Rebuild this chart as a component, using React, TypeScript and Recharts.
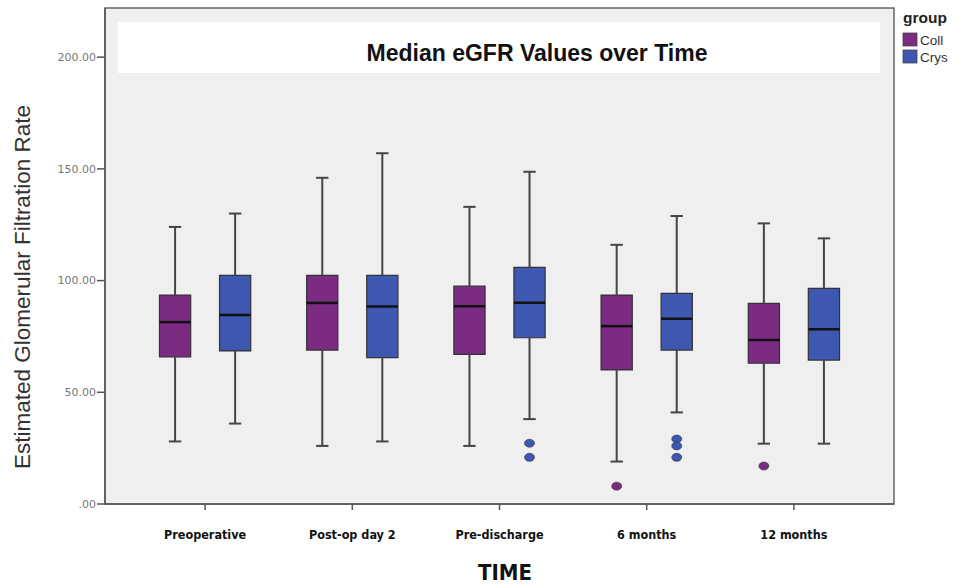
import {
  ComposedChart,
  XAxis,
  YAxis,
  Scatter,
  ReferenceArea,
  ReferenceLine,
} from 'recharts'

const times = ['Preoperative', 'Post-op day 2', 'Pre-discharge', '6 months', '12 months']

const collMin = [28, 26, 26, 19, 27]
const collQ1 = [65.8, 68.9, 67, 60, 63]
const collMedian = [81.4, 90, 88.5, 79.6, 73.4]
const collQ3 = [93.5, 102.3, 97.5, 93.5, 89.8]
const collMax = [124, 146, 133, 116, 125.6]

const crysMin = [36, 28, 38, 41, 27]
const crysQ1 = [68.5, 65.5, 74.4, 68.9, 64.4]
const crysMedian = [84.6, 88.4, 90.1, 82.9, 78.2]
const crysQ3 = [102.3, 102.3, 105.9, 94.3, 96.5]
const crysMax = [130, 157, 148.7, 128.9, 118.9]

const collOutliers = [
  { time: 3, value: 8 },
  { time: 4, value: 17 },
]
const crysOutliers = [
  { time: 2, value: 27.2 },
  { time: 2, value: 20.9 },
  { time: 3, value: 29.1 },
  { time: 3, value: 26 },
  { time: 3, value: 20.9 },
]

const yTicks = [0, 50, 100, 150, 200]

const COLL = '#7b2b82'
const CRYS = '#3e58b2'
const WHISKER = '#454545'
const NARROW = "'DejaVu Sans Condensed', 'DejaVu Sans', sans-serif"

const OFFSET = 0.204
const HALF_BOX = 0.106
const HALF_CAP = 0.042
const X_DOMAIN: [number, number] = [-0.68, 4.68]

type Group = {
  name: string
  color: string
  shift: number
  min: number[]
  q1: number[]
  median: number[]
  q3: number[]
  max: number[]
}

const groups: Group[] = [
  { name: 'Coll', color: COLL, shift: -OFFSET, min: collMin, q1: collQ1, median: collMedian, q3: collQ3, max: collMax },
  { name: 'Crys', color: CRYS, shift: OFFSET, min: crysMin, q1: crysQ1, median: crysMedian, q3: crysQ3, max: crysMax },
]

const Dot = (props: any) => {
  const { cx, cy, fill } = props
  return <ellipse cx={cx} cy={cy} rx={5} ry={4} fill={fill} stroke="#333" strokeWidth={0.6} />
}

export default function App() {
  const boxes: any[] = []
  groups.forEach((g) => {
    times.forEach((_, i) => {
      const x = i + g.shift
      boxes.push(
        <ReferenceLine key={`wl-${g.name}-${i}`} segment={[{ x, y: g.min[i] }, { x, y: g.q1[i] }]} stroke={WHISKER} strokeWidth={2} />,
        <ReferenceLine key={`wh-${g.name}-${i}`} segment={[{ x, y: g.q3[i] }, { x, y: g.max[i] }]} stroke={WHISKER} strokeWidth={2} />,
        <ReferenceLine key={`cl-${g.name}-${i}`} segment={[{ x: x - HALF_CAP, y: g.min[i] }, { x: x + HALF_CAP, y: g.min[i] }]} stroke={WHISKER} strokeWidth={2} />,
        <ReferenceLine key={`ch-${g.name}-${i}`} segment={[{ x: x - HALF_CAP, y: g.max[i] }, { x: x + HALF_CAP, y: g.max[i] }]} stroke={WHISKER} strokeWidth={2} />,
        <ReferenceArea key={`b-${g.name}-${i}`} x1={x - HALF_BOX} x2={x + HALF_BOX} y1={g.q1[i]} y2={g.q3[i]} fill={g.color} fillOpacity={1} stroke="#333" strokeWidth={1.2} />,
        <ReferenceLine key={`m-${g.name}-${i}`} segment={[{ x: x - HALF_BOX, y: g.median[i] }, { x: x + HALF_BOX, y: g.median[i] }]} stroke="#111" strokeWidth={2.5} />,
      )
    })
  })

  const collPts = collOutliers.map((o) => ({ x: o.time - OFFSET, y: o.value }))
  const crysPts = crysOutliers.map((o) => ({ x: o.time + OFFSET, y: o.value }))

  return (
    <div style={{ position: 'absolute', left: 0, top: 0, width: 967, height: 588, background: '#fff' }}>
      <ComposedChart width={967} height={588} margin={{ top: 8, right: 73, bottom: 0, left: 0 }}>
        <XAxis
          type="number"
          dataKey="x"
          domain={X_DOMAIN}
          ticks={[0, 1, 2, 3, 4]}
          tickFormatter={(v) => times[v] ?? ''}
          allowDataOverflow
          height={84}
          stroke="#555"
          strokeWidth={1.5}
          tickSize={6}
          tickMargin={20}
          tick={{ fontSize: 12.5, fontWeight: 'bold', fill: '#111', fontFamily: NARROW }}
        />
        <YAxis
          type="number"
          dataKey="y"
          domain={[0, 222]}
          ticks={yTicks}
          allowDataOverflow
          width={105}
          stroke="#555"
          strokeWidth={1.5}
          tickSize={8}
          tickMargin={1}
          tickFormatter={(v) => (v === 0 ? '.00' : v.toFixed(2))}
          tick={{ fontSize: 11, fill: '#777', fontFamily: 'DejaVu Sans' }}
        />
        <ReferenceArea x1={X_DOMAIN[0]} x2={X_DOMAIN[1]} y1={0} y2={222} fill="#efefef" fillOpacity={1} stroke="#666" strokeWidth={1.5} />
        {boxes}
        <Scatter data={collPts} dataKey="y" fill={COLL} shape={<Dot />} isAnimationActive={false} />
        <Scatter data={crysPts} dataKey="y" fill={CRYS} shape={<Dot />} isAnimationActive={false} />
      </ComposedChart>

      <svg width={967} height={588} style={{ position: 'absolute', left: 0, top: 0, pointerEvents: 'none' }}>
        <rect x={118} y={22} width={762} height={51} fill="#fff" />
        <text x={537} y={61} textAnchor="middle" fontFamily="Liberation Sans" fontWeight="bold" fontSize={23} fill="#111">
          Median eGFR Values over Time
        </text>
        <text x={22} y={287} transform="rotate(-90 22 287)" textAnchor="middle" dominantBaseline="central" fontFamily="Liberation Sans" fontSize={22.5} fill="#333">
          Estimated Glomerular Filtration Rate
        </text>
        <text x={505} y={580} textAnchor="middle" fontFamily={NARROW} fontWeight="bold" fontSize={22} fill="#111">
          TIME
        </text>
        <text x={903} y={23} fontFamily="Liberation Sans" fontWeight="bold" fontSize={15.5} fill="#222">
          group
        </text>
        <rect x={903} y={33} width={14} height={13} fill={COLL} stroke="#444" strokeWidth={0.8} />
        <text x={920} y={45} fontFamily="Liberation Sans" fontSize={13.5} fill="#333">
          Coll
        </text>
        <rect x={903} y={50} width={14} height={13} fill={CRYS} stroke="#444" strokeWidth={0.8} />
        <text x={920} y={62} fontFamily="Liberation Sans" fontSize={13.5} fill="#333">
          Crys
        </text>
      </svg>
    </div>
  )
}
